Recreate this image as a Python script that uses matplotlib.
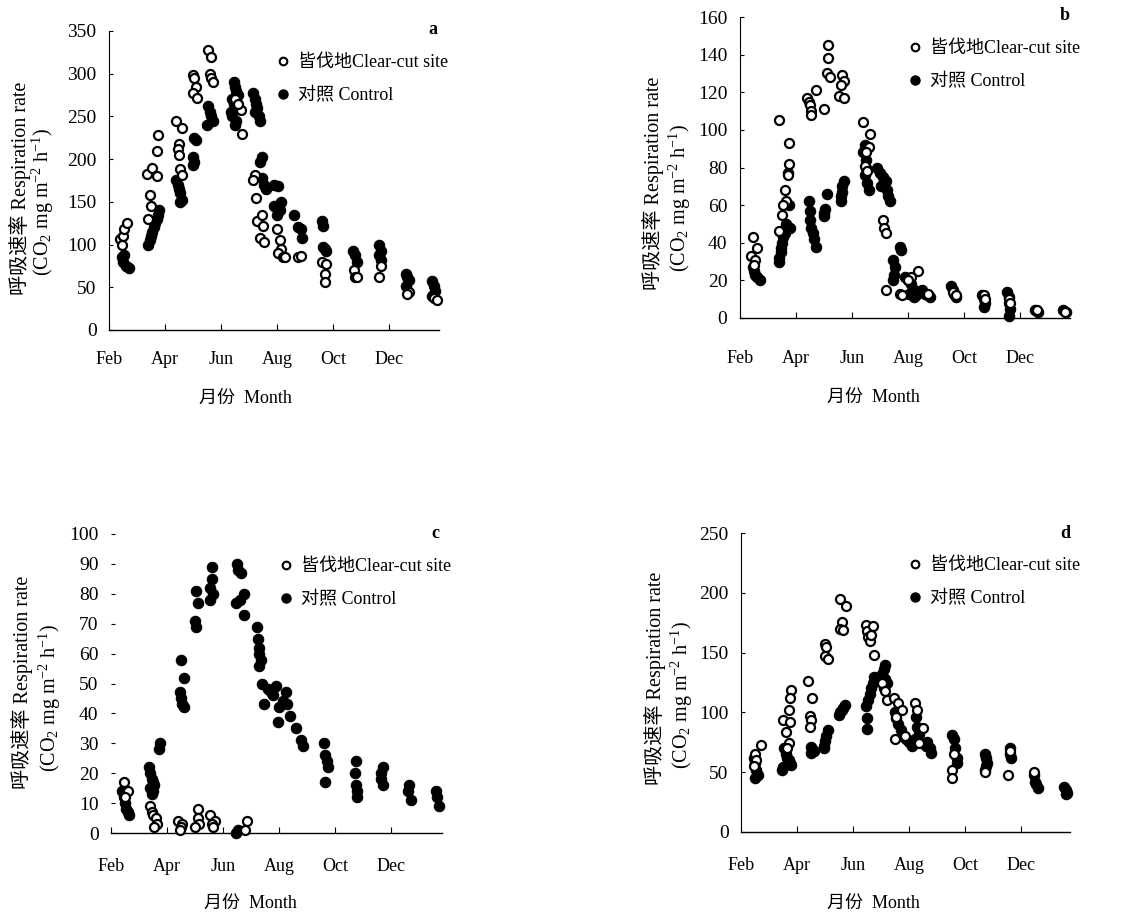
import matplotlib
matplotlib.use('Agg')
import matplotlib.pyplot as plt
from matplotlib.lines import Line2D

plt.rcParams['font.family'] = ['Liberation Serif', 'Noto Sans CJK SC']
plt.rcParams['mathtext.fontset'] = 'custom'
plt.rcParams['mathtext.rm'] = 'Liberation Serif'
plt.rcParams['mathtext.it'] = 'Liberation Serif:italic'

# ---------------- data (x = month number, 2 = Feb, 14 = next Feb) ----------------
month_ticks = [2, 4, 6, 8, 10, 12]
month_labels = ['Feb', 'Apr', 'Jun', 'Aug', 'Oct', 'Dec']
legend_labels = ['皆伐地Clear-cut site', '对照 Control']

# panel a
a_open_x = [2.4, 2.5, 2.55, 2.45, 2.65,
            3.35, 3.55, 3.7, 3.45, 3.5, 3.4, 3.75, 3.7,
            4.4, 4.6, 4.5, 4.45, 4.5, 4.55, 4.6,
            5.0, 5.05, 5.1, 5.0, 5.15,
            5.55, 5.65, 5.6, 5.65, 5.7,
            6.5, 6.7, 6.75, 6.6,
            7.2, 7.15, 7.25, 7.3, 7.45, 7.5, 7.4, 7.55,
            8.0, 8.1, 8.15, 8.05, 8.2, 8.3,
            8.75, 8.85,
            9.6, 9.75, 9.7, 9.7,
            10.75, 10.8, 10.85,
            11.7, 11.65,
            12.7, 12.65,
            13.6, 13.7]
a_open_y = [106, 110, 118, 100, 125,
            183, 190, 180, 158, 145, 130, 228, 210,
            245, 236, 218, 212, 205, 188, 182,
            298, 295, 285, 278, 272,
            328, 320, 300, 295, 290,
            270, 258, 230, 265,
            182, 175, 155, 128, 135, 122, 108, 103,
            118, 105, 95, 90, 85, 85,
            85, 87,
            80, 77, 65, 56,
            70, 62, 62,
            75, 62,
            45, 42,
            38, 35]
a_fill_x = [2.45, 2.5, 2.6, 2.55, 2.7,
            3.4, 3.45, 3.5, 3.55, 3.6, 3.65, 3.7, 3.75, 3.8,
            4.4, 4.45, 4.5, 4.55, 4.6, 4.55,
            5.05, 5.1, 5.0, 5.05, 5.0,
            5.55, 5.6, 5.65, 5.7, 5.5,
            6.45, 6.5, 6.55, 6.6, 6.4, 6.45, 6.5, 6.35, 6.4, 6.55, 6.5,
            7.15, 7.2, 7.25, 7.3, 7.2, 7.35, 7.4,
            7.45, 7.4, 7.45, 7.55, 7.6,
            7.9, 8.05, 7.9, 8.1, 8.0, 8.15,
            8.6, 8.75, 8.85, 8.9,
            9.6, 9.65, 9.65, 9.7, 9.75,
            10.7, 10.8, 10.85,
            11.65, 11.7, 11.65, 11.7,
            12.6, 12.65, 12.7, 12.6,
            13.55, 13.6, 13.65, 13.55]
a_fill_y = [85, 80, 75, 88, 73,
            100, 105, 110, 115, 120, 125, 130, 135, 140,
            175, 170, 165, 160, 152, 150,
            225, 222, 203, 197, 193,
            262, 255, 250, 245, 240,
            290, 285, 280, 275, 270, 265, 260, 255, 250, 245, 240,
            278, 270, 265, 260, 255, 250, 245,
            202, 197, 178, 170, 165,
            170, 168, 145, 140, 135, 150,
            135, 120, 118, 108,
            128, 122, 97, 95, 92,
            92, 88, 80,
            100, 93, 88, 82,
            66, 62, 58, 52,
            57, 52, 46, 40]

# panel b
b_open_x = [2.45, 2.6, 2.4, 2.55, 2.5,
            3.4, 3.75, 3.75, 3.7, 3.6, 3.65, 3.55, 3.5, 3.4,
            4.4, 4.45, 4.5, 4.55, 4.55, 4.7,
            5.15, 5.15, 5.1, 5.2, 5.0,
            5.65, 5.7, 5.6, 5.55, 5.7,
            6.4, 6.65, 6.6, 6.5, 6.45, 6.55,
            7.1, 7.15, 7.2, 7.2,
            8.35, 8.1, 8.0, 7.7, 7.8,
            8.7,
            9.6, 9.7,
            10.7, 10.75,
            11.6, 11.65,
            12.6,
            13.6]
b_open_y = [43, 37, 33, 31, 28,
            105, 93, 82, 76, 68, 62, 60, 55, 46,
            117, 115, 113, 110, 108, 121,
            145, 138, 130, 128, 111,
            129, 126, 124, 118, 117,
            104, 98, 91, 88, 81, 78,
            52, 48, 45, 15,
            25, 22, 20, 13, 12,
            13,
            14, 12,
            12, 10,
            10, 8,
            4,
            3]
b_fill_x = [2.45, 2.5, 2.55, 2.6, 2.7,
            3.7, 3.75, 3.65, 3.8, 3.6, 3.55, 3.5, 3.45, 3.45, 3.4, 3.4,
            4.45, 4.5, 4.5, 4.55, 4.6, 4.65, 4.7,
            5.1, 5.05, 5.0, 5.0,
            5.7, 5.65, 5.65, 5.6, 5.6,
            6.45, 6.4, 6.5, 6.5, 6.45, 6.55, 6.6,
            6.9, 7.0, 7.1, 7.2, 7.05, 7.25, 7.3, 7.35,
            7.7, 7.75, 7.45, 7.55, 7.5, 7.45,
            7.9, 8.0, 8.1, 8.2, 8.05, 8.3, 8.2,
            8.5, 8.6, 8.7, 8.8,
            9.55, 9.6, 9.65, 9.7,
            10.65, 10.7, 10.75, 10.7,
            11.55, 11.6, 11.6, 11.65, 11.6,
            12.55, 12.65,
            13.55, 13.65]
b_fill_y = [27, 25, 23, 22, 20,
            77, 60, 50, 48, 45, 43, 40, 37, 35, 32, 30,
            62, 57, 52, 48, 45, 42, 38,
            66, 58, 56, 54,
            73, 70, 67, 65, 62,
            92, 88, 84, 80, 76, 72, 68,
            80, 77, 75, 73, 70, 68, 65, 62,
            38, 36, 31, 27, 23, 20,
            22, 20, 18, 15, 13, 12, 11,
            15, 13, 12, 11,
            17, 15, 13, 11,
            12, 10, 8, 6,
            14, 11, 8, 5, 1,
            4, 3,
            4, 3]

# panel c
c_open_x = [2.45, 2.6, 2.5,
            3.4, 3.45, 3.5, 3.6, 3.65, 3.55,
            4.4, 4.55, 4.5, 4.45,
            5.1, 5.1, 5.15, 5.0,
            5.55, 5.7, 5.6, 5.65,
            6.85, 6.8]
c_open_y = [17, 14, 12,
            9, 7, 6, 5, 3, 2,
            4, 3, 2, 1,
            8, 5, 3, 2,
            6, 4, 3, 2,
            4, 1]
c_fill_x = [2.4, 2.45, 2.5, 2.55, 2.6, 2.65,
            3.35, 3.4, 3.45, 3.5, 3.55, 3.4, 3.5, 3.45, 3.75, 3.7,
            4.5, 4.6, 4.45, 4.5, 4.55, 4.6,
            5.05, 5.1, 5.0, 5.05,
            5.6, 5.6, 5.55, 5.65, 5.55,
            6.5, 6.55, 6.65, 6.75, 6.6, 6.45, 6.75, 6.45, 6.55,
            7.2, 7.25, 7.3, 7.3, 7.35, 7.3,
            7.4, 7.6, 7.7, 7.8, 7.9, 7.45, 7.95, 8.0, 8.15, 8.25,
            8.3, 8.4, 8.6, 8.8, 8.85,
            9.6, 9.65, 9.7, 9.75, 9.65,
            10.75, 10.7, 10.75, 10.8, 10.8,
            11.7, 11.65, 11.65, 11.7,
            12.65, 12.6, 12.7,
            13.6, 13.65, 13.7]
c_fill_y = [14, 12, 10, 8, 7, 6,
            22, 20, 18, 17, 16, 15, 14, 13, 30, 28,
            58, 52, 47, 45, 43, 42,
            81, 77, 71, 69,
            89, 85, 82, 80, 78,
            90, 88, 87, 80, 78, 77, 73, 0, 1,
            69, 65, 62, 60, 58, 56,
            50, 48, 47, 46, 49, 43, 37, 42, 44, 47,
            43, 39, 35, 31, 29,
            30, 26, 24, 22, 17,
            24, 20, 16, 14, 12,
            22, 20, 18, 16,
            16, 14, 11,
            14, 12, 9]

# panel d
d_open_x = [2.7, 2.5, 2.55, 2.45,
            3.8, 3.75, 3.7, 3.5, 3.75, 3.6, 3.7, 3.65,
            4.4, 4.55, 4.45, 4.5, 4.45,
            5.0, 5.05, 5.0, 5.1,
            5.55, 5.75, 5.6, 5.55, 5.65,
            6.45, 6.5, 6.55, 6.6, 6.65, 6.7, 6.75,
            7.05, 7.15, 7.2,
            7.45, 7.6, 7.75, 7.55, 7.5, 7.85,
            8.2, 8.3, 8.5, 8.35,
            9.6, 9.55, 9.55,
            10.7,
            11.6, 11.55,
            12.45]
d_open_y = [73, 65, 60, 55,
            119, 112, 102, 94, 92, 84, 74, 70,
            126, 112, 97, 94, 88,
            157, 155, 147, 145,
            195, 189, 176, 170, 169,
            173, 168, 163, 160, 165, 172, 148,
            125, 118, 110,
            112, 108, 102, 96, 78, 80,
            108, 102, 87, 74,
            65, 52, 45,
            50,
            68, 48,
            50]
d_fill_x = [2.45, 2.5, 2.55, 2.6, 2.5,
            3.55, 3.6, 3.65, 3.7, 3.75, 3.8, 3.5, 3.45,
            4.5, 4.55, 4.6, 4.5,
            5.1, 5.05, 5.0, 4.95, 4.95,
            5.7, 5.65, 5.6, 5.55, 5.5,
            6.75, 6.7, 6.65, 6.6, 6.55, 6.45, 6.5, 6.5,
            7.15, 7.1, 7.05, 7.15, 7.2, 7.1,
            7.5, 7.55, 7.6, 7.7, 7.75, 7.9, 8.0, 8.1,
            8.25, 8.3, 8.35, 8.2, 8.6, 8.8, 8.75, 8.65,
            9.55, 9.6, 9.65, 9.7, 9.7,
            10.7, 10.75, 10.8, 10.75, 10.7,
            11.6, 11.6, 11.65,
            12.45, 12.5, 12.55, 12.6,
            13.55, 13.6, 13.65, 13.6]
d_fill_y = [62, 58, 52, 48, 45,
            70, 65, 62, 60, 58, 56, 54, 52,
            71, 69, 68, 66,
            85, 80, 76, 72, 70,
            106, 104, 102, 100, 98,
            130, 125, 120, 115, 110, 105, 95, 86,
            140, 136, 132, 128, 125, 120,
            100, 95, 90, 85, 80, 78, 75, 72,
            96, 88, 82, 78, 72, 66, 70, 75,
            81, 78, 70, 62, 58,
            65, 62, 58, 55, 52,
            70, 65, 62,
            48, 42, 40, 37,
            38, 35, 33, 32]

# ---------------- layout ----------------
W, H = 1122, 919
fig = plt.figure(figsize=(W / 100, H / 100), dpi=100)


def fx(px):
    return px / W


def fy(py):
    return 1 - py / H


panels = [
    dict(letter='a', rect=(109, 31, 439, 330), ylim=350, ystep=50,
         ox=a_open_x, oy=a_open_y, fx_=a_fill_x, fy_=a_fill_y, xpad=15,
         yl1=(20, 188), yl2=(43, 202), xl=(245, 398), leg=(276, 54),
         let=(433, 29), left_spine=True),
    dict(letter='b', rect=(740, 17, 1070, 318), ylim=160, ystep=20,
         ox=b_open_x, oy=b_open_y, fx_=b_fill_x, fy_=b_fill_y, xpad=23,
         yl1=(653, 183), yl2=(680, 198), xl=(873, 397), leg=(908, 40),
         let=(1065, 15), left_spine=True),
    dict(letter='c', rect=(111, 534, 442, 833), ylim=100, ystep=10,
         ox=c_open_x, oy=c_open_y, fx_=c_fill_x, fy_=c_fill_y, xpad=18,
         yl1=(22, 682), yl2=(50, 698), xl=(250, 903), leg=(279, 558),
         let=(435, 533), left_spine=False),
    dict(letter='d', rect=(741, 533, 1070, 832), ylim=250, ystep=50,
         ox=d_open_x, oy=d_open_y, fx_=d_fill_x, fy_=d_fill_y, xpad=18,
         yl1=(655, 678), yl2=(682, 695), xl=(873, 903), leg=(908, 557),
         let=(1065, 533), left_spine=True),
]

for p in panels:
    l, t, r, b = p['rect']
    ax = fig.add_axes([fx(l), fy(b), (r - l) / W, (b - t) / H])
    ax.set_xlim(2, 2 + (r - l) / 28.0)
    ax.set_ylim(0, p['ylim'])
    ax.plot(p['fx_'], p['fy_'], ls='none', marker='o', ms=7.5,
            mfc='black', mec='black', mew=0.8, clip_on=False, zorder=3)
    ax.plot(p['ox'], p['oy'], ls='none', marker='o', ms=6.5,
            mfc='white', mec='black', mew=1.6, clip_on=False, zorder=4)
    for s in ['top', 'right']:
        ax.spines[s].set_visible(False)
    ax.spines['left'].set_visible(p['left_spine'])
    ax.spines['left'].set_linewidth(0.8)
    ax.spines['bottom'].set_linewidth(1.0)
    ax.set_xticks(month_ticks)
    ax.set_xticklabels(month_labels)
    ax.set_yticks(list(range(0, p['ylim'] + 1, p['ystep'])))
    ax.tick_params(axis='x', direction='in', length=4, width=0.8,
                   pad=p['xpad'], labelsize=13)
    ax.tick_params(axis='y', direction='in', length=3, width=0.8,
                   pad=9, labelsize=14)
    # y labels
    fig.text(fx(p['yl1'][0]), fy(p['yl1'][1]), '呼吸速率 Respiration rate',
             rotation=90, ha='center', va='center', fontsize=14.5)
    fig.text(fx(p['yl2'][0]), fy(p['yl2'][1]),
             r'(CO$_2$ mg m$^{-2}$ h$^{-1}$)',
             rotation=90, ha='center', va='center', fontsize=14.5)
    # x label
    fig.text(fx(p['xl'][0]), fy(p['xl'][1]), '月份  Month',
             ha='center', va='center', fontsize=13)
    # panel letter
    fig.text(fx(p['let'][0]), fy(p['let'][1]), p['letter'],
             ha='center', va='center', fontsize=13, fontweight='bold')
    # legend
    handles = [
        Line2D([], [], ls='none', marker='o', ms=5.5, mfc='white',
               mec='black', mew=1.5),
        Line2D([], [], ls='none', marker='o', ms=6.5, mfc='black',
               mec='black'),
    ]
    ax.legend(handles, legend_labels, loc='upper left',
              bbox_to_anchor=(fx(p['leg'][0]), fy(p['leg'][1])),
              bbox_transform=fig.transFigure, frameon=False, borderpad=0,
              borderaxespad=0, handlelength=0.8, handletextpad=0.4,
              labelspacing=0.88, fontsize=13, numpoints=1)

fig.savefig('out.png', dpi=100)
